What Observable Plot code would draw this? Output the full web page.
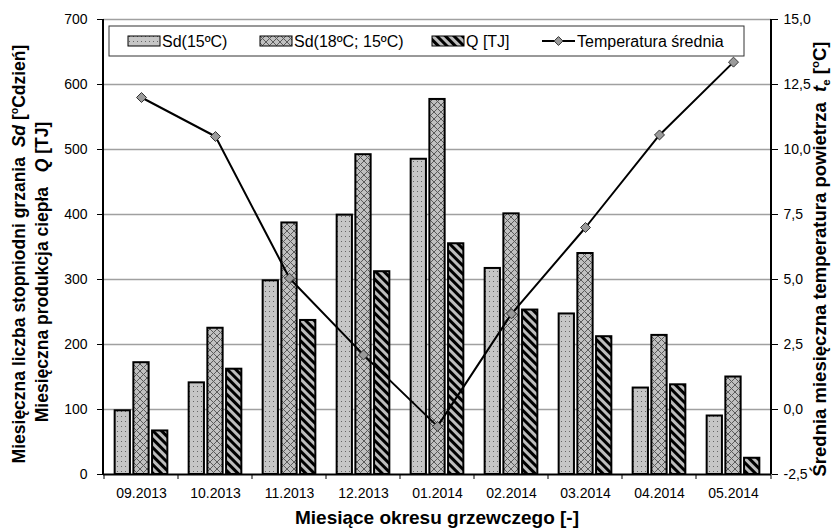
<!DOCTYPE html>
<html><head><meta charset="utf-8">
<script src="https://cdn.jsdelivr.net/npm/d3@7"></script>
<script src="https://cdn.jsdelivr.net/npm/@observablehq/plot@0.6"></script>
<style>
body{margin:0;background:#fff;}
#chart svg{font-family:"Liberation Sans",Arial,sans-serif;}
</style>
</head><body><div id="chart"></div>
<script>
const months = ["09.2013","10.2013","11.2013","12.2013","01.2014","02.2014","03.2014","04.2014","05.2014"];
const sd15 = [98,141,298,399,485,317,247,133,90];
const sd18 = [172,225,387,492,577,401,340,214,150];
const qTJ  = [67,162,237,312,355,253,212,138,25];
const temp = [12.0,10.5,5.05,2.1,-0.65,3.68,7.0,10.56,13.36];
const leftTicks = [0,100,200,300,400,500,600,700];
const rightTickLabels = ["-2,5","0,0","2,5","5,0","7,5","10,0","12,5","15,0"];
const seriesNames = ["Sd(15ºC)","Sd(18ºC; 15ºC)","Q [TJ]","Temperatura średnia"];
const tMin = -2.5, tMax = 15, yMax = 700;

const W = 840, H = 530, mL = 103, mR = 69, mT = 19, mB = 56;
const data = months.map((m,i)=>({month:m, sd15:sd15[i], sd18:sd18[i], q:qTJ[i], temp:temp[i]}));
const tY = t => (t - tMin) * yMax / (tMax - tMin);
const bw = (W - mL - mR) / months.length;
const barW = 15.5, gap = 18.7;
const ins = k => { const l = bw/2 + k*gap - barW/2; return {insetLeft: l, insetRight: bw - l - barW}; };

const plot = Plot.plot({
  width: W, height: H,
  marginLeft: mL, marginRight: mR, marginTop: mT, marginBottom: mB,
  style: {fontFamily: "Liberation Sans, Arial, sans-serif", fontSize: "14px", color: "#000", background: "#fff"},
  x: {domain: months, padding: 0},
  y: {domain: [0, yMax]},
  marks: [
    Plot.ruleY(leftTicks.slice(1), {stroke: "#a0a0a0", strokeWidth: 1.6}),
    Plot.barY(data, {x: "month", y: "sd15", fill: "url(#pDots)", stroke: "#000", strokeWidth: 2, ...ins(-1)}),
    Plot.barY(data, {x: "month", y: "sd18", fill: "url(#pCross)", stroke: "#000", strokeWidth: 2, ...ins(0)}),
    Plot.barY(data, {x: "month", y: "q", fill: "url(#pStripes)", stroke: "#000", strokeWidth: 2, ...ins(1)}),
    Plot.line(data, {x: "month", y: d => tY(d.temp), stroke: "#000", strokeWidth: 2}),
    Plot.dot(data, {x: "month", y: d => tY(d.temp), symbol: "diamond2", r: 4.5, fill: "#9a9a9a", stroke: "#333", strokeWidth: 1}),
    Plot.ruleY([0], {stroke: "#000", strokeWidth: 2}),
    Plot.axisY({anchor: "left", ticks: leftTicks, tickSize: 6, tickPadding: 10, fontSize: 14, label: null, stroke: "#000"}),
    Plot.axisY({anchor: "right", ticks: leftTicks, tickSize: 6, tickPadding: 6, fontSize: 14, label: null,
      tickFormat: d => rightTickLabels[leftTicks.indexOf(d)]}),
    Plot.axisX({tickSize: 0, tickPadding: 14, fontSize: 14, label: null})
  ]
});

const svg = d3.select(plot);
const xs = plot.scale("x"), ys = plot.scale("y");
const xr = xs.range, yr = ys.range;
const x0 = Math.min(...xr), x1 = Math.max(...xr), yb = Math.max(...yr), yt = Math.min(...yr);

// patterns
const defs = svg.insert("defs", ":first-child");
const p1 = defs.append("pattern").attr("id","pDots").attr("patternUnits","userSpaceOnUse").attr("width",4).attr("height",5);
p1.append("rect").attr("width",4).attr("height",5).attr("fill","#c6c6c6");
p1.append("rect").attr("x",1).attr("y",1).attr("width",1).attr("height",1).attr("fill","#666");
const p2 = defs.append("pattern").attr("id","pCross").attr("patternUnits","userSpaceOnUse").attr("width",7).attr("height",7);
p2.append("rect").attr("width",7).attr("height",7).attr("fill","#c0c0c0");
p2.append("path").attr("d","M0,0L7,7M7,0L0,7").attr("stroke","#5a5a5a").attr("stroke-width",1);
const p3 = defs.append("pattern").attr("id","pStripes").attr("patternUnits","userSpaceOnUse").attr("width",6).attr("height",6).attr("patternTransform","rotate(-45)");
p3.append("rect").attr("width",6).attr("height",6).attr("fill","#bdbdbd");
p3.append("rect").attr("width",3).attr("height",6).attr("fill","#000");

const g = svg.append("g");
g.append("line").attr("x1",x0).attr("x2",x0).attr("y1",yt).attr("y2",yb).attr("stroke","#000").attr("stroke-width",2);
g.append("line").attr("x1",x1).attr("x2",x1).attr("y1",yt).attr("y2",yb).attr("stroke","#000").attr("stroke-width",2);
for (let i = 0; i <= months.length; i++) {
  const xx = i < months.length ? xs.apply(months[i]) : x1;
  g.append("line").attr("x1",xx).attr("x2",xx).attr("y1",yb).attr("y2",yb+5).attr("stroke","#000").attr("stroke-width",1);
}

// legend
const lg = svg.append("g").attr("text-anchor","start");
lg.append("rect").attr("x",109).attr("y",26).attr("width",635).attr("height",30).attr("fill","#fff").attr("stroke","#333").attr("stroke-width",1);
const ly = 41;
const sw = [[128,"url(#pDots)"],[260,"url(#pCross)"],[432,"url(#pStripes)"]];
sw.forEach(([sx,f],i)=>{
  lg.append("rect").attr("x",sx).attr("y",ly-5).attr("width",32).attr("height",10).attr("fill",f).attr("stroke","#000").attr("stroke-width",1);
  lg.append("text").attr("x",sx+34).attr("y",ly).attr("dy","0.36em").attr("font-size",16).text(seriesNames[i]);
});
lg.append("line").attr("x1",542).attr("x2",575).attr("y1",ly).attr("y2",ly).attr("stroke","#000").attr("stroke-width",2);
lg.append("path").attr("d",d3.symbol(d3.symbolDiamond2, 50)()).attr("transform",`translate(558.5,${ly})`).attr("fill","#9a9a9a").attr("stroke","#333");
lg.append("text").attr("x",577).attr("y",ly).attr("dy","0.36em").attr("font-size",16).text(seriesNames[3]);

// titles
const tg = svg.append("g").attr("font-weight","bold").attr("text-anchor","middle");
const l1 = tg.append("text").attr("font-size",17.5).attr("transform","translate(25,254) rotate(-90)");
l1.append("tspan").text("Miesięczna liczba stopniodni grzania  ");
l1.append("tspan").attr("font-style","italic").text("Sd");
l1.append("tspan").text(" [");
l1.append("tspan").attr("font-size",10.5).attr("dy",-7).text("o");
l1.append("tspan").attr("dy",7).text("Cdzień]");
const l2 = tg.append("text").attr("font-size",17.5).attr("transform","translate(48,272) rotate(-90)");
l2.append("tspan").text("Miesięczna produkcja ciepła   ");
l2.append("tspan").attr("font-style","italic").text("Q");
l2.append("tspan").text(" [TJ]");
const r1 = tg.append("text").attr("font-size",18.5).attr("transform","translate(826,259) rotate(-90)");
r1.append("tspan").text("Średnia miesięczna temperatura powietrza  ");
r1.append("tspan").attr("font-style","italic").text("t");
r1.append("tspan").attr("font-size",11.5).attr("dy",4).text("e");
r1.append("tspan").attr("dy",-4).text(" [");
r1.append("tspan").attr("font-size",11.5).attr("dy",-7).text("o");
r1.append("tspan").attr("dy",7).text("C]");
tg.append("text").attr("font-size",19).attr("x",437).attr("y",524).text("Miesiące okresu grzewczego [-]");

document.getElementById("chart").appendChild(plot);
</script>
</body></html>
